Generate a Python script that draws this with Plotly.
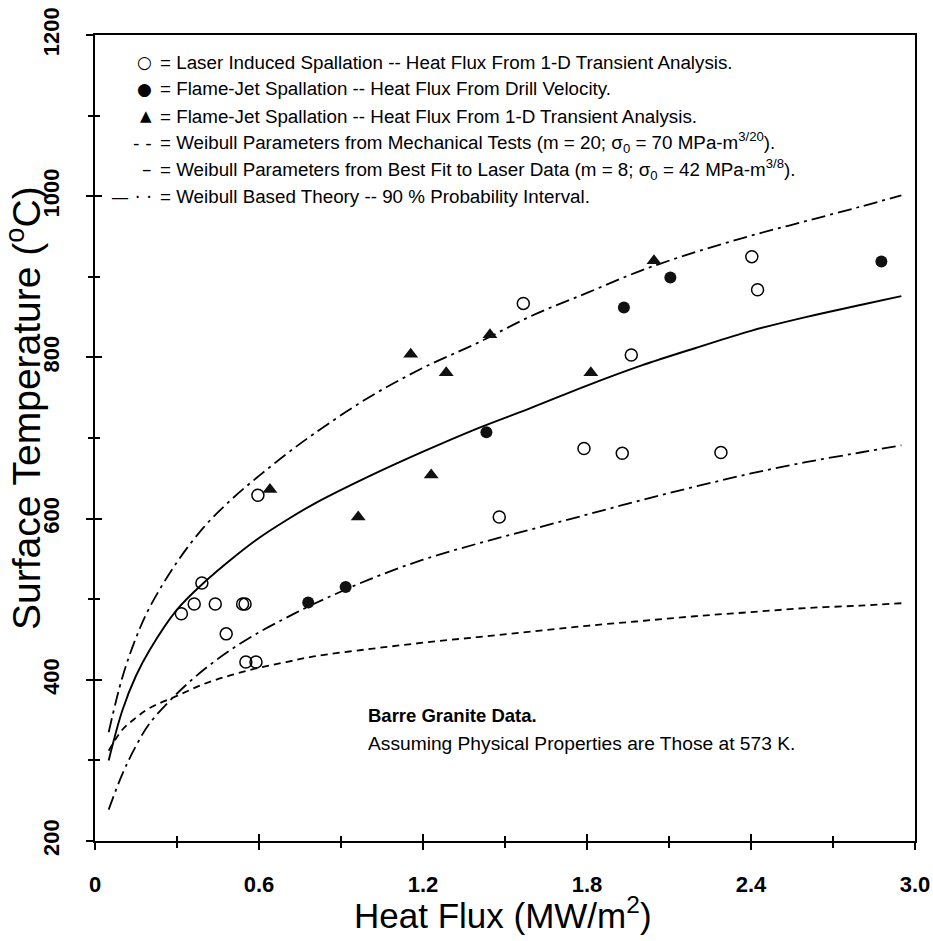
import plotly.graph_objects as go

# ---------------- data ----------------
laser_x = [0.316, 0.363, 0.391, 0.440, 0.480, 0.540, 0.549, 0.552, 0.589, 0.596,
           1.479, 1.567, 1.789, 1.929, 1.962, 2.290, 2.403, 2.424]
laser_y = [482, 494, 520, 494, 457, 494, 494, 422, 422, 629,
           602, 867, 687, 681, 803, 682, 925, 884]

drill_x = [0.780, 0.917, 1.432, 1.935, 2.105, 2.877]
drill_y = [496, 515, 707, 862, 899, 919]

flame_x = [0.640, 0.963, 1.155, 1.230, 1.285, 1.445, 1.814, 2.045]
flame_y = [636, 602, 804, 654, 781, 828, 781, 920]

curve_x = [0.05, 0.1, 0.15, 0.2, 0.3, 0.4, 0.5, 0.6, 0.7, 0.8, 1.0, 1.2, 1.4,
           1.6, 1.8, 2.0, 2.2, 2.4, 2.6, 2.8, 2.95]
mech_y = [312, 338, 353, 365, 380, 395, 406, 415, 422, 429, 438, 446, 453,
          460, 467, 473, 479, 484, 489, 492, 495]
best_y = [300, 362, 405, 437, 487, 521, 550, 576, 598, 618, 652, 683, 712,
          738, 765, 790, 812, 833, 850, 865, 876]
upper_y = [335, 403, 452, 490, 546, 590, 624, 653, 680, 705, 750, 787, 818,
           852, 880, 908, 931, 951, 969, 987, 1001]
lower_y = [239, 283, 318, 346, 383, 413, 438, 459, 477, 494, 524, 549, 569,
           587, 605, 623, 640, 656, 670, 682, 691]

x_ticks = [0, 0.6, 1.2, 1.8, 2.4, 3.0]
x_tick_labels = ["0", "0.6", "1.2", "1.8", "2.4", "3.0"]
y_ticks = [200, 400, 600, 800, 1000, 1200]
y_tick_labels = ["200", "400", "600", "800", "1000", "1200"]

legend_symbols = ["○", "●", "▲", "- -", "–", "— · ·"]
legend_texts = [
    "= Laser Induced Spallation -- Heat Flux From 1-D Transient Analysis.",
    "= Flame-Jet Spallation -- Heat Flux From Drill Velocity.",
    "= Flame-Jet Spallation -- Heat Flux From 1-D Transient Analysis.",
    "= Weibull Parameters from Mechanical Tests (m = 20; σ<sub>0</sub> = 70 MPa-m<sup>3/20</sup>).",
    "= Weibull Parameters from Best Fit to Laser Data (m = 8; σ<sub>0</sub> = 42 MPa-m<sup>3/8</sup>).",
    "= Weibull Based Theory -- 90 % Probability Interval.",
]

# ---------------- layout constants ----------------
W, H = 933, 941
L, R, T, B = 95, 18, 35, 100
PW, PH = W - L - R, H - T - B
FONT = "Liberation Sans, Arial, sans-serif"


def pxx(px):
    return (px - L) / PW


def pxy(py):
    return (H - B - py) / PH


fig = go.Figure()

dash_mech = "7px,5px"
dash_int = "14px,5px,3px,5px"

fig.add_trace(go.Scatter(x=curve_x, y=mech_y, mode="lines", line_shape="spline",
                         line=dict(color="black", width=1.8, dash=dash_mech),
                         name="Weibull Parameters from Mechanical Tests", showlegend=False))
fig.add_trace(go.Scatter(x=curve_x, y=best_y, mode="lines", line_shape="spline",
                         line=dict(color="black", width=1.9),
                         name="Weibull Parameters from Best Fit to Laser Data", showlegend=False))
fig.add_trace(go.Scatter(x=curve_x, y=upper_y, mode="lines", line_shape="spline",
                         line=dict(color="black", width=1.8, dash=dash_int),
                         name="90 % Probability Interval (upper)", showlegend=False))
fig.add_trace(go.Scatter(x=curve_x, y=lower_y, mode="lines", line_shape="spline",
                         line=dict(color="black", width=1.8, dash=dash_int),
                         name="90 % Probability Interval (lower)", showlegend=False))

fig.add_trace(go.Scatter(x=laser_x, y=laser_y, mode="markers",
                         marker=dict(symbol="circle-open", size=12, color="black",
                                     line=dict(width=1.5, color="black")),
                         name="Laser Induced Spallation", showlegend=False))
fig.add_trace(go.Scatter(x=drill_x, y=drill_y, mode="markers",
                         marker=dict(symbol="circle", size=12, color="#111"),
                         name="Flame-Jet Spallation (Drill Velocity)", showlegend=False))
fig.add_trace(go.Scatter(x=flame_x, y=flame_y, mode="markers",
                         marker=dict(symbol="triangle-up", size=13, color="#111"),
                         name="Flame-Jet Spallation (1-D Transient)", showlegend=False))

# empty trace so that the overlay axes (inner half of crossing ticks) exist
fig.add_trace(go.Scatter(x=[None], y=[None], xaxis="x2", yaxis="y2",
                         showlegend=False, hoverinfo="skip"))

tick_font = dict(family=FONT, size=22, color="black", weight="bold")

fig.update_layout(
    width=W, height=H,
    margin=dict(l=L, r=R, t=T, b=B, autoexpand=False),
    paper_bgcolor="white", plot_bgcolor="white",
    showlegend=False,
    xaxis=dict(range=[0, 3.0], tickvals=x_ticks, ticktext=x_tick_labels,
               ticks="outside", ticklen=7, tickwidth=1.5, tickcolor="black",
               minor=dict(dtick=0.3, tick0=0, ticks="outside", ticklen=5,
                          tickwidth=1.5, tickcolor="black"),
               showline=True, linewidth=2, linecolor="black", mirror=True,
               showgrid=False, zeroline=False, tickfont=tick_font,
               ticklabelstandoff=16, automargin=False),
    yaxis=dict(range=[200, 1200], tickvals=y_ticks, ticktext=y_tick_labels,
               ticks="outside", ticklen=7, tickwidth=1.5, tickcolor="black",
               minor=dict(dtick=100, tick0=200, ticks="outside", ticklen=5,
                          tickwidth=1.5, tickcolor="black"),
               showline=True, linewidth=2, linecolor="black", mirror=True,
               showgrid=False, zeroline=False, tickfont=tick_font,
               tickangle=-90, ticklabelstandoff=18, automargin=False),
    xaxis2=dict(range=[0, 3.0], overlaying="x", anchor="y2", side="bottom",
                tickvals=x_ticks, ticks="inside", ticklen=7, tickwidth=1.5,
                tickcolor="black",
                minor=dict(dtick=0.3, tick0=0, ticks="inside", ticklen=5,
                           tickwidth=1.5, tickcolor="black"),
                showticklabels=False, showline=False, showgrid=False, zeroline=False,
                automargin=False),
    yaxis2=dict(range=[200, 1200], overlaying="y", anchor="x2", side="left",
                tickvals=y_ticks, ticks="inside", ticklen=7, tickwidth=1.5,
                tickcolor="black",
                minor=dict(dtick=100, tick0=200, ticks="inside", ticklen=5,
                           tickwidth=1.5, tickcolor="black"),
                showticklabels=False, showline=False, showgrid=False, zeroline=False,
                automargin=False),
)

annotations = []
# axis titles
annotations.append(dict(text="Heat Flux (MW/m<sup>2</sup>)", xref="paper", yref="paper",
                        x=pxx(503), y=pxy(913), xanchor="center", yanchor="middle",
                        showarrow=False, font=dict(family=FONT, size=35, color="black")))
annotations.append(dict(text="Surface Temperature (<sup>o</sup>C)", xref="paper", yref="paper",
                        x=pxx(23), y=pxy(408), xanchor="center", yanchor="middle",
                        textangle=-90, showarrow=False,
                        font=dict(family=FONT, size=39, color="black")))

# legend (text glyphs like the original)
legend_rows_y = [62, 89, 116, 142, 169, 196]
sym_sizes = [17, 17, 15, 18, 19, 18]
for sym, txt, yy, ss in zip(legend_symbols, legend_texts, legend_rows_y, sym_sizes):
    annotations.append(dict(text=sym, xref="paper", yref="paper", x=pxx(154), y=pxy(yy),
                            xanchor="right", yanchor="middle", showarrow=False,
                            font=dict(family="DejaVu Sans, " + FONT, size=ss, color="black")))
    annotations.append(dict(text=txt, xref="paper", yref="paper", x=pxx(158), y=pxy(yy),
                            xanchor="left", yanchor="middle", showarrow=False,
                            font=dict(family=FONT, size=18.8, color="black")))

# note
annotations.append(dict(text="<b>Barre Granite Data.</b>", xref="paper", yref="paper",
                        x=pxx(366), y=pxy(715), xanchor="left", yanchor="middle",
                        showarrow=False, font=dict(family=FONT, size=18.5, color="black")))
annotations.append(dict(text="Assuming Physical Properties are Those at 573 K.", xref="paper",
                        yref="paper", x=pxx(366), y=pxy(743), xanchor="left",
                        yanchor="middle", showarrow=False,
                        font=dict(family=FONT, size=19.2, color="black")))

fig.update_layout(annotations=annotations)

fig.write_html("out.html", config={"displayModeBar": False},
               post_script="document.body.style.margin='0';document.body.style.padding='0';")
